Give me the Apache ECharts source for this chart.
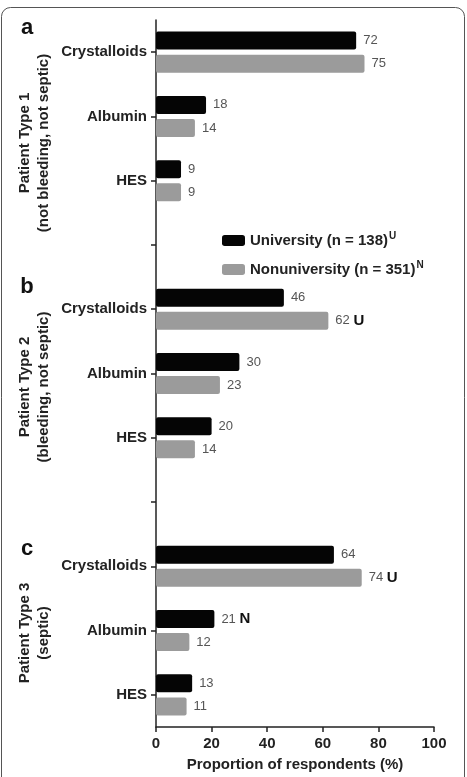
<!DOCTYPE html>
<html>
<head>
<meta charset="utf-8">
<script src="https://cdn.jsdelivr.net/npm/echarts@6/dist/echarts.min.js"></script>
<style>
  html, body { margin: 0; padding: 0; background: #fff; }
  #chart { width: 467px; height: 777px; }
</style>
</head>
<body>
<div id="chart"></div>
<script>
// ---- data ----
const panels = ['a', 'b', 'c'];
const panelNames = [
  'Patient Type 1\n(not bleeding, not septic)',
  'Patient Type 2\n(bleeding, not septic)',
  'Patient Type 3\n(septic)'
];
const categories = ['Crystalloids', 'Albumin', 'HES'];
const seriesNames = ['University (n = 138)', 'Nonuniversity (n = 351)'];
const seriesSup = ['U', 'N'];
// values per panel (a, b, c), order = categories
const universityValues = [[72, 18, 9], [46, 30, 20], [64, 21, 13]];
const nonuniversityValues = [[75, 14, 9], [62, 23, 14], [74, 12, 11]];
// significance marks per panel
const universityMarks = [['', '', ''], ['', '', ''], ['', 'N', '']];
const nonuniversityMarks = [['', '', ''], ['U', '', ''], ['U', '', '']];
const xTicks = [0, 20, 40, 60, 80, 100];

// ---- build axis & series data ----
const axisData = [];
const uData = [], nData = [];
panels.forEach((p, pi) => {
  categories.forEach((c, ci) => {
    axisData.push(p + '|' + c);
    uData.push({ value: universityValues[pi][ci], mark: universityMarks[pi][ci] });
    nData.push({ value: nonuniversityValues[pi][ci], mark: nonuniversityMarks[pi][ci] });
  });
  if (pi < panels.length - 1) {
    axisData.push('sep' + pi + '|');
    uData.push({ value: null, mark: '' });
    nData.push({ value: null, mark: '' });
  }
});

const FONT = '"Liberation Sans", Arial, sans-serif';
const chart = echarts.init(document.getElementById('chart'), null, { renderer: 'canvas' });

const labelCfg = {
  show: true,
  position: 'right',
  distance: 7,
  formatter: p => p.data.mark ? p.value + ' {s|' + p.data.mark + '}' : '' + p.value,
  color: '#555',
  fontSize: 13,
  fontFamily: FONT,
  rich: {
    s: { color: '#111', fontWeight: 'bold', fontSize: 15, fontFamily: FONT }
  }
};

const graphics = [
  {
    type: 'rect', z: -1,
    shape: { x: 1.5, y: 7.5, width: 463, height: 790, r: 9 },
    style: { fill: 'none', stroke: '#555', lineWidth: 1 }
  }
];
const letterY = [28, 287, 549];
const nameY = [143, 387, 633];
panels.forEach((p, i) => {
  graphics.push({
    type: 'text', x: 27, y: letterY[i],
    style: { text: p, font: 'bold 22px ' + FONT, fill: '#111', textAlign: 'center', textVerticalAlign: 'middle' }
  });
  graphics.push({
    type: 'text', x: 34, y: nameY[i], rotation: Math.PI / 2,
    style: { text: panelNames[i], font: 'bold 15px ' + FONT, fill: '#222', textAlign: 'center', textVerticalAlign: 'middle', lineHeight: 19 }
  });
});

chart.setOption({
  animation: false,
  backgroundColor: '#fff',
  grid: { left: 156, right: 33, top: 20, bottom: 45, containLabel: false },
  legend: {
    orient: 'vertical',
    left: 217, top: 226,
    itemWidth: 23, itemHeight: 11,
    itemGap: 9,
    icon: 'roundRect',
    data: seriesNames,
    formatter: name => name + '{sup|' + seriesSup[seriesNames.indexOf(name)] + '}',
    textStyle: {
      fontFamily: FONT, fontSize: 15, fontWeight: 'bold', color: '#222', lineHeight: 19,
      rich: {
        sup: { fontFamily: FONT, fontSize: 10, fontWeight: 'bold', color: '#222', verticalAlign: 'top', lineHeight: 19, padding: [0, 0, 10, 1] }
      }
    }
  },
  xAxis: {
    type: 'value', min: 0, max: 100, interval: 20,
    name: 'Proportion of respondents (%)',
    nameLocation: 'middle', nameGap: 30,
    nameTextStyle: { fontFamily: FONT, fontSize: 15, fontWeight: 'bold', color: '#222' },
    axisLine: { show: true, lineStyle: { color: '#222', width: 1.5 } },
    axisTick: { show: true, length: 5, lineStyle: { color: '#222', width: 1.5 } },
    axisLabel: { fontFamily: FONT, fontSize: 15, fontWeight: 'bold', color: '#222', margin: 9,
      formatter: v => xTicks.includes(v) ? String(v) : '' },
    splitLine: { show: false }
  },
  yAxis: {
    type: 'category', inverse: true, data: axisData,
    axisLine: { show: true, lineStyle: { color: '#222', width: 1.5 } },
    axisTick: { show: true, alignWithLabel: true, interval: 0, length: 5, lineStyle: { color: '#222', width: 1.5 } },
    axisLabel: { interval: 0, fontFamily: FONT, fontSize: 15, fontWeight: 'bold', color: '#222', margin: 9,
      formatter: v => v.split('|')[1] }
  },
  series: [
    {
      name: seriesNames[0], type: 'bar', data: uData,
      barWidth: 18, barGap: '28%',
      itemStyle: { color: '#050505', borderRadius: 2 },
      label: labelCfg
    },
    {
      name: seriesNames[1], type: 'bar', data: nData,
      barWidth: 18,
      itemStyle: { color: '#9b9b9b', borderRadius: 2 },
      label: labelCfg
    }
  ],
  graphic: graphics
});
</script>
</body>
</html>
